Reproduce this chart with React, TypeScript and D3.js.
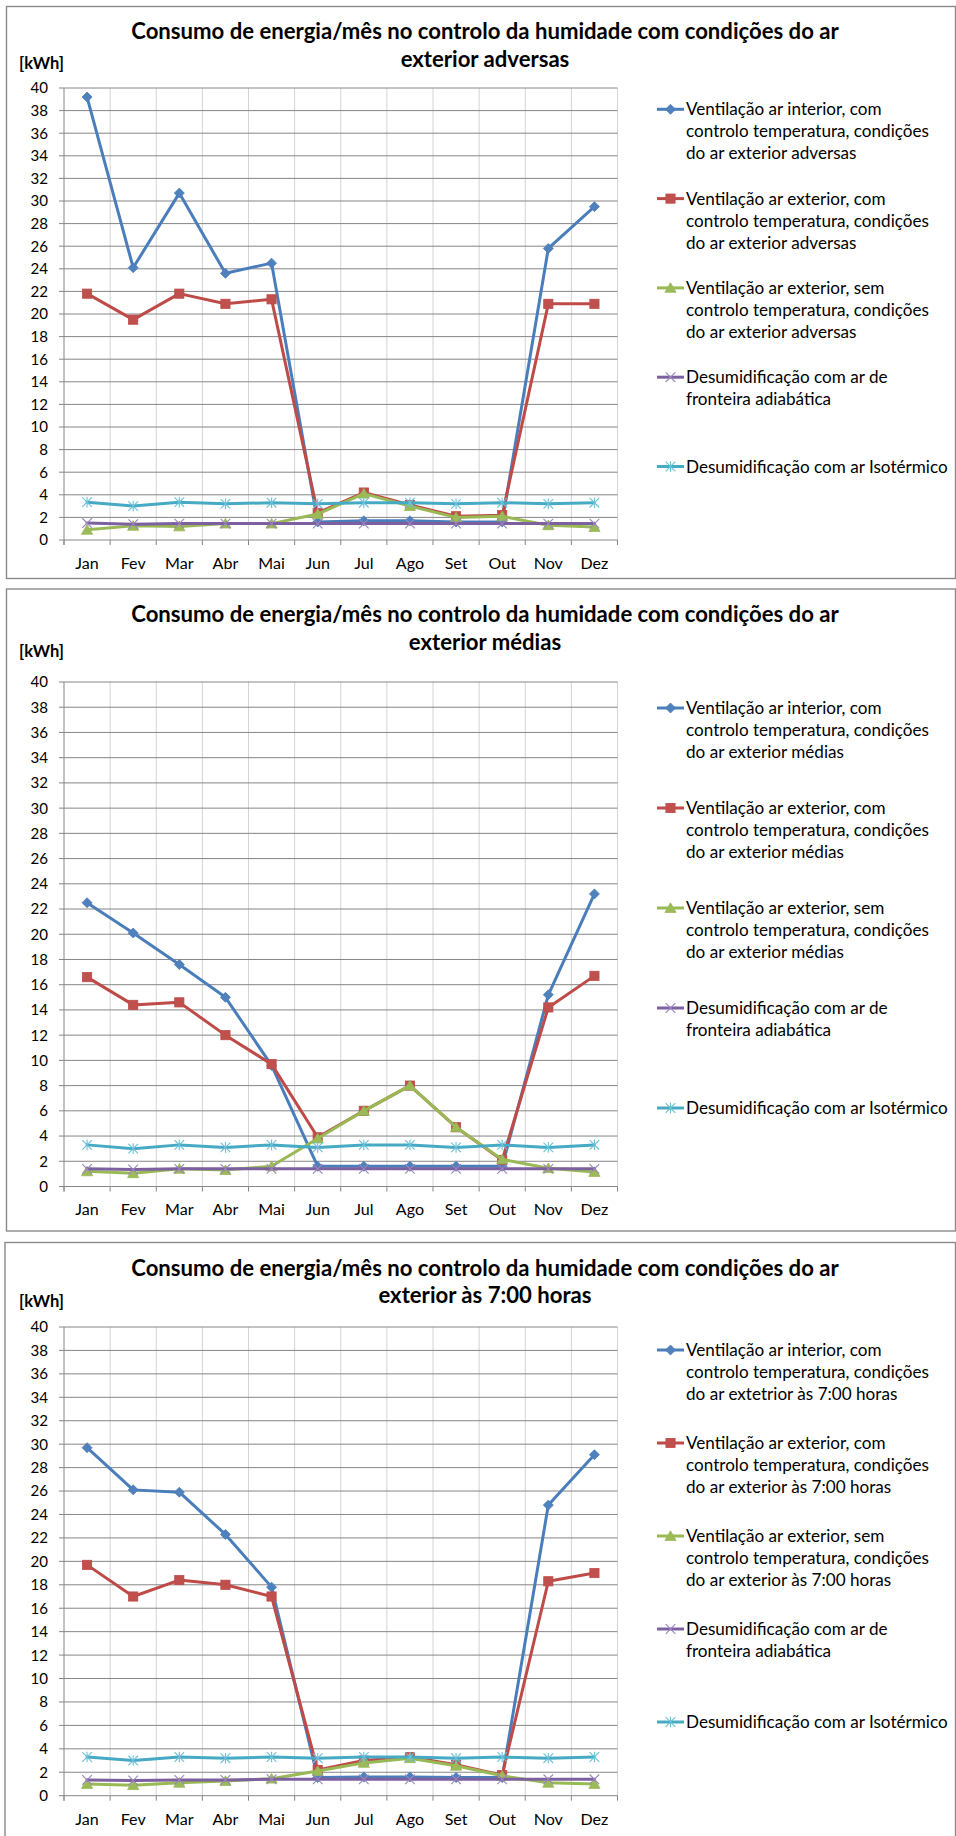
import React, { useMemo, useEffect } from 'react';
import * as d3 from 'd3';

const months = ['Jan', 'Fev', 'Mar', 'Abr', 'Mai', 'Jun', 'Jul', 'Ago', 'Set', 'Out', 'Nov', 'Dez'];
const yTickValues = [0, 2, 4, 6, 8, 10, 12, 14, 16, 18, 20, 22, 24, 26, 28, 30, 32, 34, 36, 38, 40];

const titleLine1 = 'Consumo de energia/mês no controlo da humidade com condições do ar';
const titleLine2 = ['exterior adversas', 'exterior médias', 'exterior às 7:00 horas'];

// Chart 1: condições do ar exterior adversas
const advInterior = [39.2, 24.1, 30.7, 23.6, 24.5, 1.6, 1.7, 1.7, 1.6, 1.6, 25.8, 29.5];
const advExtCom = [21.8, 19.5, 21.8, 20.9, 21.3, 2.4, 4.2, 3.1, 2.1, 2.2, 20.9, 20.9];
const advExtSem = [0.9, 1.25, 1.2, 1.45, 1.45, 2.3, 4.1, 3.0, 2.0, 2.1, 1.3, 1.15];
const advAdiab = [1.5, 1.4, 1.45, 1.45, 1.45, 1.45, 1.45, 1.45, 1.45, 1.45, 1.45, 1.45];
const advIso = [3.35, 3.0, 3.35, 3.2, 3.3, 3.2, 3.3, 3.3, 3.2, 3.3, 3.2, 3.3];

// Chart 2: condições do ar exterior médias
const medInterior = [22.5, 20.1, 17.6, 15.0, 9.6, 1.6, 1.6, 1.6, 1.6, 1.6, 15.2, 23.2];
const medExtCom = [16.6, 14.4, 14.6, 12.0, 9.7, 3.9, 6.0, 8.0, 4.7, 2.1, 14.2, 16.7];
const medExtSem = [1.2, 1.05, 1.4, 1.3, 1.6, 3.8, 6.0, 8.0, 4.7, 2.15, 1.45, 1.15];
const medAdiab = [1.4, 1.35, 1.4, 1.4, 1.4, 1.4, 1.4, 1.4, 1.4, 1.4, 1.4, 1.4];
const medIso = [3.3, 3.0, 3.3, 3.1, 3.3, 3.1, 3.3, 3.3, 3.1, 3.3, 3.1, 3.3];

// Chart 3: condições do ar exterior às 7:00 horas
const h7Interior = [29.7, 26.1, 25.9, 22.3, 17.8, 1.55, 1.6, 1.6, 1.55, 1.55, 24.8, 29.1];
const h7ExtCom = [19.7, 17.0, 18.4, 18.0, 17.0, 2.2, 3.0, 3.3, 2.65, 1.75, 18.3, 19.0];
const h7ExtSem = [1.0, 0.9, 1.1, 1.25, 1.45, 2.1, 2.8, 3.2, 2.55, 1.7, 1.1, 1.0];
const h7Adiab = [1.35, 1.3, 1.35, 1.35, 1.4, 1.4, 1.4, 1.4, 1.4, 1.4, 1.4, 1.4];
const h7Iso = [3.3, 3.0, 3.3, 3.2, 3.3, 3.2, 3.3, 3.3, 3.2, 3.3, 3.2, 3.3];

const legendAdversas = [
  ['Ventilação ar interior, com', 'controlo temperatura, condições', 'do ar exterior adversas'],
  ['Ventilação ar exterior, com', 'controlo temperatura, condições', 'do ar exterior adversas'],
  ['Ventilação ar exterior, sem', 'controlo temperatura, condições', 'do ar exterior adversas'],
  ['Desumidificação com ar de', 'fronteira adiabática'],
  ['Desumidificação com ar Isotérmico'],
];
const legendMedias = [
  ['Ventilação ar interior, com', 'controlo temperatura, condições', 'do ar exterior médias'],
  ['Ventilação ar exterior, com', 'controlo temperatura, condições', 'do ar exterior médias'],
  ['Ventilação ar exterior, sem', 'controlo temperatura, condições', 'do ar exterior médias'],
  ['Desumidificação com ar de', 'fronteira adiabática'],
  ['Desumidificação com ar Isotérmico'],
];
const legend7h = [
  ['Ventilação ar interior, com', 'controlo temperatura, condições', 'do ar extetrior às 7:00 horas'],
  ['Ventilação ar exterior, com', 'controlo temperatura, condições', 'do ar exterior às 7:00 horas'],
  ['Ventilação ar exterior, sem', 'controlo temperatura, condições', 'do ar exterior às 7:00 horas'],
  ['Desumidificação com ar de', 'fronteira adiabática'],
  ['Desumidificação com ar Isotérmico'],
];

const seriesStyles = [
  { line: '#4A7EBB', fill: '#4F81BD', marker: 'diamond' },
  { line: '#BE4B48', fill: '#C0504D', marker: 'square' },
  { line: '#98B954', fill: '#9BBB59', marker: 'triangle' },
  { line: '#7D60A0', fill: '#9A85BC', marker: 'x' },
  { line: '#46AAC5', fill: '#6CC0D8', marker: 'star' },
];

const FONT = 'Lato, "Open Sans", sans-serif';

function fitSize(text: string, weight: string, target: number): number {
  try {
    const ctx = document.createElement('canvas').getContext('2d');
    if (!ctx) return 16;
    ctx.font = `${weight} 100px Lato`;
    const w = ctx.measureText(text).width;
    return (100 * target) / w;
  } catch (e) {
    return 16;
  }
}

function Marker({ type, x, y, st }: { type: string; x: number; y: number; st: any }) {
  if (type === 'diamond') {
    const r = 5;
    return <path d={`M${x},${y - r}L${x + r},${y}L${x},${y + r}L${x - r},${y}Z`} fill={st.fill} stroke={st.line} strokeWidth={0.8} />;
  }
  if (type === 'square') {
    return <rect x={x - 4.6} y={y - 4.6} width={9.2} height={9.2} fill={st.fill} stroke={st.line} strokeWidth={0.8} />;
  }
  if (type === 'triangle') {
    return <path d={`M${x},${y - 5.2}L${x + 5.6},${y + 4.4}L${x - 5.6},${y + 4.4}Z`} fill={st.fill} stroke={st.line} strokeWidth={0.8} />;
  }
  if (type === 'x') {
    const r = 4.8;
    return (
      <g stroke={st.fill} strokeWidth={1.1}>
        <line x1={x - r} y1={y - r} x2={x + r} y2={y + r} />
        <line x1={x - r} y1={y + r} x2={x + r} y2={y - r} />
      </g>
    );
  }
  const r = 4.8;
  return (
    <g stroke={st.fill} strokeWidth={1.1}>
      <line x1={x - r} y1={y - r} x2={x + r} y2={y + r} />
      <line x1={x - r} y1={y + r} x2={x + r} y2={y - r} />
      <line x1={x} y1={y - r - 0.5} x2={x} y2={y + r + 0.5} />
    </g>
  );
}

type ChartCfg = {
  boxX: number; boxTop: number; boxBottom: number;
  plotTop: number; plotBottom: number;
  title1Y: number; title2Y: number; kwhY: number; monthY: number;
  legendY0: number; legendStep: number;
  line2: string; series: number[][]; legend: string[][];
};

const PLOT_LEFT = 64;
const PLOT_RIGHT = 617.5;

function Chart({ cfg, fs }: { cfg: ChartCfg; fs: any }) {
  const x = d3.scaleBand<string>().domain(months).range([PLOT_LEFT, PLOT_RIGHT]);
  const y = d3.scaleLinear().domain([0, 40]).range([cfg.plotBottom, cfg.plotTop]);
  const cx = (m: string) => (x(m) as number) + x.bandwidth() / 2;
  const lineGen = d3.line<number>().x((_, i) => cx(months[i])).y((d) => y(d));
  const boundaries = d3.range(0, months.length + 1).map((k) => PLOT_LEFT + k * x.bandwidth());
  const titleCx = 485;

  return (
    <g>
      <rect x={cfg.boxX} y={cfg.boxTop} width={955.5 - cfg.boxX} height={cfg.boxBottom - cfg.boxTop} fill="#fff" stroke="#8a8a8a" strokeWidth={1.4} />
      <text x={titleCx} y={cfg.title1Y + fs.title * 0.35} textAnchor="middle" fontFamily={FONT} fontWeight="bold" fontSize={fs.title} fill="#000">{titleLine1}</text>
      <text x={titleCx} y={cfg.title2Y + fs.title * 0.35} textAnchor="middle" fontFamily={FONT} fontWeight="bold" fontSize={fs.title} fill="#000">{cfg.line2}</text>
      <text x={19} y={cfg.kwhY + fs.kwh * 0.35} fontFamily={FONT} fontWeight="bold" fontSize={fs.kwh} fill="#000">[kWh]</text>
      {boundaries.slice(1).map((bx, i) => (
        <line key={'v' + i} x1={bx} x2={bx} y1={cfg.plotTop} y2={cfg.plotBottom} stroke="#d4d4d4" strokeWidth={1} />
      ))}
      {yTickValues.map((v) => (
        <g key={'h' + v}>
          <line x1={PLOT_LEFT - 5} x2={PLOT_RIGHT} y1={y(v)} y2={y(v)} stroke="#868686" strokeWidth={1} />
          <text x={48} y={y(v) + fs.tick * 0.36} textAnchor="end" fontFamily={FONT} fontSize={fs.tick} fill="#000">{v}</text>
        </g>
      ))}
      <line x1={PLOT_LEFT} x2={PLOT_LEFT} y1={cfg.plotTop} y2={cfg.plotBottom + 5} stroke="#868686" strokeWidth={1} />
      {boundaries.map((bx, i) => (
        <line key={'t' + i} x1={bx} x2={bx} y1={cfg.plotBottom} y2={cfg.plotBottom + 5} stroke="#868686" strokeWidth={1} />
      ))}
      {months.map((m) => (
        <text key={m} x={cx(m)} y={cfg.monthY + fs.month * 0.36} textAnchor="middle" fontFamily={FONT} fontSize={fs.month} fill="#000">{m}</text>
      ))}
      {cfg.series.map((vals, si) => {
        const st = seriesStyles[si];
        return (
          <g key={'s' + si}>
            <path d={lineGen(vals) || ''} fill="none" stroke={st.line} strokeWidth={3} strokeLinejoin="round" strokeLinecap="round" />
            {vals.map((v, i) => (
              <Marker key={i} type={st.marker} x={cx(months[i])} y={y(v)} st={st} />
            ))}
          </g>
        );
      })}
      {cfg.legend.map((lines, li) => {
        const st = seriesStyles[li];
        const ly = cfg.legendY0 + li * cfg.legendStep;
        return (
          <g key={'l' + li}>
            <line x1={657} x2={684} y1={ly} y2={ly} stroke={st.line} strokeWidth={3} />
            <Marker type={st.marker} x={670.5} y={ly} st={st} />
            {lines.map((t, k) => (
              <text key={k} x={686} y={ly + k * 22 + fs.legend * 0.36} fontFamily={FONT} fontSize={fs.legend} fill="#000">{t}</text>
            ))}
          </g>
        );
      })}
    </g>
  );
}

const charts: ChartCfg[] = [
  {
    boxX: 6.5, boxTop: 6.5, boxBottom: 578.5, plotTop: 88, plotBottom: 540,
    title1Y: 31, title2Y: 59, kwhY: 63, monthY: 563, legendY0: 109.3, legendStep: 89.3,
    line2: titleLine2[0], series: [advInterior, advExtCom, advExtSem, advAdiab, advIso], legend: legendAdversas,
  },
  {
    boxX: 6.5, boxTop: 589, boxBottom: 1231, plotTop: 682, plotBottom: 1186.5,
    title1Y: 614, title2Y: 642, kwhY: 651, monthY: 1209, legendY0: 708, legendStep: 100,
    line2: titleLine2[1], series: [medInterior, medExtCom, medExtSem, medAdiab, medIso], legend: legendMedias,
  },
  {
    boxX: 5, boxTop: 1242.5, boxBottom: 1840, plotTop: 1327, plotBottom: 1795.7,
    title1Y: 1268, title2Y: 1295, kwhY: 1301, monthY: 1819, legendY0: 1350, legendStep: 93,
    line2: titleLine2[2], series: [h7Interior, h7ExtCom, h7ExtSem, h7Adiab, h7Iso], legend: legend7h,
  },
];

export default function App() {
  useEffect(() => {
    document.body.style.margin = '0';
  }, []);
  const fs = useMemo(() => ({
    title: fitSize(titleLine1, 'bold', 708),
    legend: fitSize('controlo temperatura, condições', 'normal', 243),
    tick: fitSize('40', 'normal', 17.5),
    month: fitSize('Mar', 'normal', 28.5),
    kwh: fitSize('[kWh]', 'bold', 45),
  }), []);
  return (
    <div style={{ position: 'absolute', left: 0, top: 0 }}>
      <svg width={956} height={1836} style={{ display: 'block' }}>
        <rect x={0} y={0} width={956} height={1836} fill="#fff" />
        {charts.map((c, i) => (
          <Chart key={i} cfg={c} fs={fs} />
        ))}
      </svg>
    </div>
  );
}
